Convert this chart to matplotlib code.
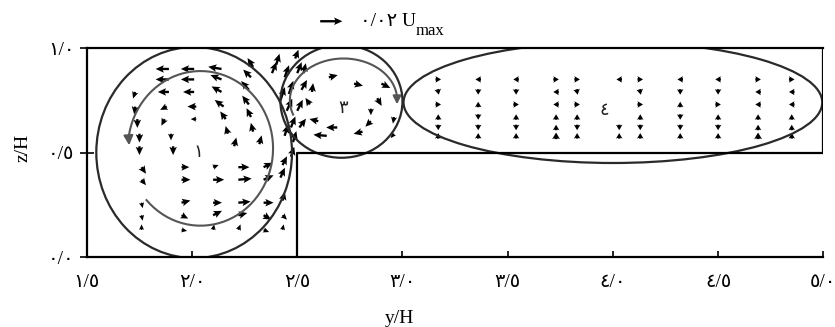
import numpy as np
import matplotlib
matplotlib.use("Agg")
import matplotlib.pyplot as plt
from matplotlib.patches import Ellipse

plt.rcParams['font.family'] = ['Liberation Serif', 'DejaVu Sans']

# channel geometry (y/H, z/H)
bank_y = [2.5, 2.5, 5.0, 5.0]
bank_z = [0.0, 0.5, 0.5, 1.0]

xticks = [1.5, 2.0, 2.5, 3.0, 3.5, 4.0, 4.5, 5.0]
xtick_labels = ['١/٥', '٢/٠', '٢/٥', '٣/٠', '٣/٥', '٤/٠', '٤/٥', '٥/٠']
yticks = [0.0, 0.5, 1.0]
ytick_labels = ['٠/٠', '٠/٥', '١/٠']

# main channel vectors (cell 1)
chan_y = [1.89, 2.01, 2.14, 2.29,
          1.89, 2.01, 2.14, 2.28,
          1.73, 1.89, 2.01, 2.14, 2.27,
          1.73, 1.88, 2.02, 2.15, 2.27,
          1.74, 1.87, 2.02, 2.16, 2.28,
          1.75, 1.90, 2.17, 2.29,
          1.75, 1.91, 2.20, 2.32,
          1.76, 1.95, 2.10, 2.22, 2.34, 2.43,
          1.76, 1.95, 2.10, 2.22, 2.34, 2.42,
          1.76, 1.95, 2.10, 2.22, 2.34, 2.43,
          1.76, 1.95, 2.10, 2.22, 2.34, 2.43,
          1.76, 1.95, 2.10, 2.22, 2.34, 2.43]
chan_z = [0.90, 0.90, 0.90, 0.91,
          0.85, 0.85, 0.85, 0.86,
          0.79, 0.79, 0.79, 0.79, 0.80,
          0.72, 0.72, 0.72, 0.72, 0.73,
          0.66, 0.66, 0.66, 0.66, 0.67,
          0.59, 0.59, 0.59, 0.60,
          0.53, 0.53, 0.53, 0.54,
          0.43, 0.43, 0.43, 0.43, 0.43, 0.44,
          0.37, 0.37, 0.37, 0.37, 0.37, 0.38,
          0.26, 0.26, 0.26, 0.26, 0.26, 0.27,
          0.20, 0.20, 0.20, 0.20, 0.20, 0.20,
          0.13, 0.13, 0.13, 0.13, 0.13, 0.13]
chan_u = [-0.012, -0.012, -0.012, -0.005,
          -0.012, -0.012, -0.010, -0.007,
          -0.002, -0.010, -0.010, -0.009, -0.007,
          -0.001, -0.006, -0.008, -0.008, -0.006,
          0.000, -0.003, -0.005, -0.005, -0.004,
          0.000, 0.000, -0.002, -0.002,
          0.000, 0.000, 0.002, 0.002,
          0.004, 0.007, 0.005, 0.010, 0.008, 0.004,
          0.004, 0.008, 0.010, 0.012, 0.009, 0.004,
          0.001, 0.008, 0.008, 0.011, 0.009, 0.002,
          0.001, 0.006, 0.008, 0.008, 0.007, 0.004,
          0.000, 0.005, 0.001, 0.002, 0.005, 0.001]
chan_v = [0.000, 0.000, 0.002, 0.008,
          0.000, 0.000, 0.004, 0.007,
          -0.006, 0.000, 0.000, 0.005, 0.008,
          -0.007, -0.003, 0.000, 0.006, 0.008,
          -0.008, -0.006, 0.000, 0.007, 0.008,
          -0.008, -0.006, 0.007, 0.008,
          -0.008, -0.008, 0.008, 0.008,
          -0.006, 0.000, 0.002, 0.000, 0.004, 0.008,
          -0.005, 0.000, 0.000, 0.001, 0.004, 0.009,
          -0.005, 0.002, 0.000, 0.001, 0.000, 0.008,
          -0.005, -0.003, 0.004, 0.002, -0.004, -0.004,
          0.005, -0.001, 0.005, 0.005, -0.002, 0.005]

# shear layer at the bank edge
shear_y = [2.40, 2.44, 2.46, 2.45, 2.47, 2.48, 2.47, 2.50, 2.52, 2.49,
           2.42, 2.38, 2.50, 2.51, 2.44]
shear_z = [0.92, 0.86, 0.78, 0.70, 0.62, 0.55, 0.48, 0.88, 0.80, 0.95,
           0.75, 0.88, 0.70, 0.62, 0.58]
shear_u = [0.003, 0.004, 0.004, 0.005, 0.004, 0.003, 0.003, 0.004, 0.005, 0.003,
           0.004, 0.004, 0.005, 0.006, 0.003]
shear_v = [0.010, 0.011, 0.012, 0.011, 0.010, 0.010, 0.009, 0.010, 0.009, 0.008,
           0.012, 0.010, 0.010, 0.008, 0.010]

# cell 3 vectors
c3_y = [2.65, 2.77, 2.90, 2.88, 2.85, 2.85, 2.81, 2.69, 2.60, 2.56, 2.57, 2.53, 2.96, 2.96, 2.64]
c3_z = [0.86, 0.83, 0.83, 0.76, 0.71, 0.65, 0.60, 0.62, 0.65, 0.73, 0.79, 0.88, 0.67, 0.59, 0.58]
c3_u = [0.008, 0.008, 0.008, 0.004, 0.000, -0.005, -0.008, -0.010, -0.008, -0.004, 0.001, 0.002,
        -0.001, -0.003, -0.012]
c3_v = [0.002, -0.002, -0.004, -0.007, -0.006, -0.005, -0.002, 0.000, 0.002, 0.006, 0.008, 0.009,
        -0.006, -0.004, 0.001]

# floodplain vectors (cell 4), rows top to bottom
flood_y = [3.17, 3.36, 3.54, 3.73, 3.83, 4.03, 4.13, 4.32, 4.50, 4.69, 4.85]
flood_z = [0.85, 0.79, 0.73, 0.67, 0.62, 0.58]
nan = np.nan
flood_u = [[0.005, -0.005, -0.005, 0.005, 0.005, -0.005, 0.005, -0.005, -0.005, 0.005, 0.005],
           [0.001, 0.000, 0.000, -0.005, 0.001, nan, 0.001, 0.000, 0.000, -0.005, -0.005],
           [0.005, 0.000, 0.005, -0.005, 0.005, nan, 0.005, 0.000, 0.005, -0.005, -0.005],
           [0.000, 0.000, 0.000, 0.000, 0.000, nan, 0.000, 0.000, 0.000, 0.000, 0.000],
           [0.000, 0.000, 0.000, 0.000, 0.000, 0.000, 0.000, 0.000, 0.000, 0.000, 0.000],
           [0.000, 0.000, 0.000, 0.000, 0.000, 0.000, 0.000, 0.000, 0.000, 0.000, 0.000]]
flood_v = [[0.000, 0.000, 0.000, 0.000, 0.000, 0.000, 0.000, 0.000, 0.000, 0.000, 0.000],
           [-0.005, -0.005, -0.005, 0.000, -0.005, nan, -0.005, -0.005, -0.005, 0.000, 0.000],
           [0.000, 0.005, 0.000, 0.000, 0.000, nan, 0.000, 0.005, 0.000, 0.000, 0.000],
           [0.005, -0.005, 0.005, 0.005, 0.005, nan, 0.005, -0.005, 0.005, 0.005, 0.005],
           [-0.005, -0.005, -0.005, 0.005, -0.005, -0.005, -0.005, -0.005, -0.005, 0.005, 0.005],
           [0.005, 0.005, 0.005, 0.006, 0.005, 0.005, 0.005, 0.005, 0.005, 0.006, 0.005]]

# secondary cells: (centre y, centre z, width, height, label)
cells = [(2.01, 0.50, 0.93, 1.01, '١'),
         (2.71, 0.745, 0.58, 0.54, '٣'),
         (4.00, 0.74, 1.99, 0.58, '٤')]
label_pos = [(2.03, 0.50), (2.72, 0.71), (3.96, 0.70)]

fig = plt.figure(figsize=(8.35, 3.27), dpi=100)
ax = fig.add_axes([0.104, 0.214, 0.882, 0.639])

qkw = dict(angles='xy', scale_units='xy', scale=0.19, color='black',
           width=0.0032, headwidth=3.2, headlength=3.5, headaxislength=3.0)
q = ax.quiver(chan_y, chan_z, chan_u, chan_v, **qkw)
ax.quiver(shear_y, shear_z, shear_u, shear_v, **qkw)
ax.quiver(c3_y, c3_z, c3_u, c3_v, **qkw)
FY, FZ = np.meshgrid(flood_y, flood_z)
ax.quiver(FY, FZ, np.array(flood_u), np.array(flood_v), angles='xy', scale_units='xy',
          scale=0.19, color='black', width=0.0045, headwidth=2.6, headlength=2.2,
          headaxislength=1.9, pivot='middle')

for (cy, cz, w, h, lab), (lx, lz) in zip(cells, label_pos):
    ax.add_patch(Ellipse((cy, cz), w, h, fill=False, ec='#2a2a2a', lw=1.6))
    ax.text(lx, lz, lab, ha='center', va='center', fontsize=13, color='#222222')

# circulation arrows inside cells 1 and 3
t = np.radians(np.linspace(222, 532, 150))
x1 = 2.04 + 0.345 * np.cos(t)
z1 = 0.52 + 0.37 * np.sin(t)
ax.plot(x1, z1, color='#555555', lw=1.5)
ax.annotate('', xy=(x1[-1] + 0.004, z1[-1] - 0.05), xytext=(x1[-1], z1[-1]),
            arrowprops=dict(arrowstyle='-|>', color='#555555', lw=1.5, mutation_scale=14))
t3 = np.radians(np.linspace(200, 5, 100))
x3 = 2.72 + 0.255 * np.cos(t3)
z3 = 0.75 + 0.20 * np.sin(t3)
ax.plot(x3, z3, color='#555555', lw=1.5)
ax.annotate('', xy=(x3[-1], z3[-1] - 0.05), xytext=(x3[-1], z3[-1]),
            arrowprops=dict(arrowstyle='-|>', color='#555555', lw=1.5, mutation_scale=12))

# bank / floodplain outline
ax.plot(bank_y, bank_z, color='black', lw=1.6)

ax.set_xlim(1.5, 5.0)
ax.set_ylim(0.0, 1.0)
ax.spines['right'].set_visible(False)
for s in ['left', 'top', 'bottom']:
    ax.spines[s].set_linewidth(1.6)
ax.set_xticks(xticks)
ax.set_xticklabels(xtick_labels, fontsize=14)
ax.set_yticks(yticks)
ax.set_yticklabels(ytick_labels, fontsize=14)
ax.tick_params(axis='x', direction='in', length=4, width=1.2, pad=12)
ax.tick_params(axis='y', direction='inout', length=10, width=1.2, pad=4)
ax.set_xlabel('y/H', fontsize=14)
ax.set_ylabel('z/H', fontsize=14)
ax.xaxis.set_label_coords(0.425, -0.254)
ax.yaxis.set_label_coords(-0.075, 0.52)

# reference vector
ax.quiverkey(q, 0.41, 0.935, 0.02, '', labelpos='E', coordinates='figure')
key = fig.text(0.431, 0.935, '٠/٠٢ U', fontsize=14, va='center', ha='left')
ax.annotate('max', xy=(1.0, -0.05), xycoords=key, fontsize=12, va='center', ha='left',
            annotation_clip=False)

fig.savefig('out.png', dpi=100)
